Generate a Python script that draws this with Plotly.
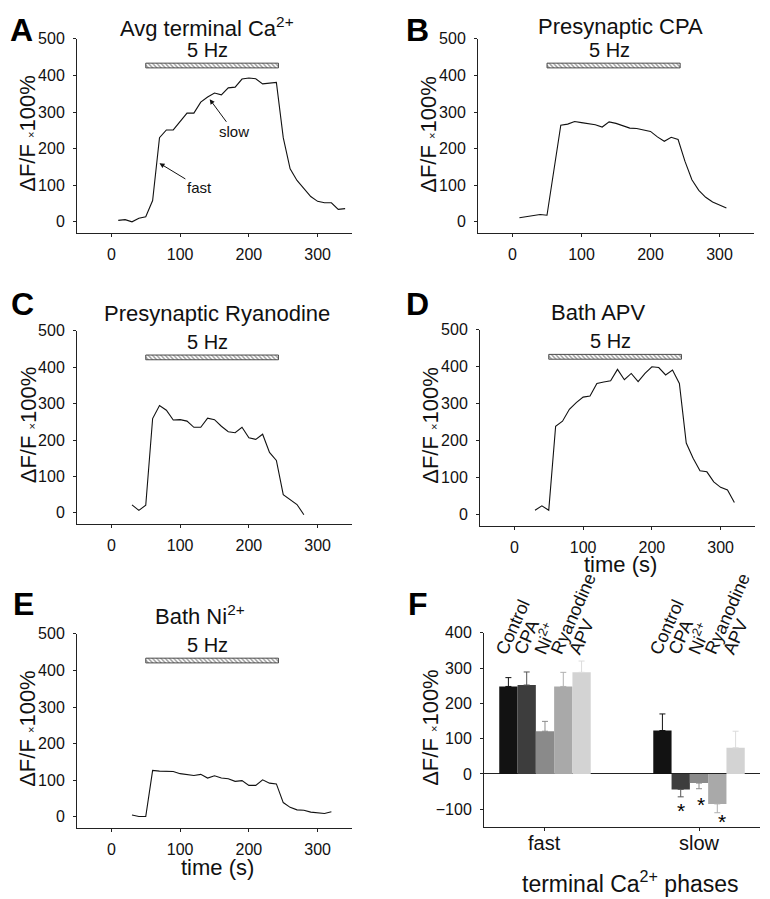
import plotly.graph_objects as go

FONT = "Liberation Sans, Arial, sans-serif"

# ---------------- data ----------------
t_A = [10, 20, 30, 40, 50, 60, 70, 80, 90, 100, 110, 120, 130, 140, 150, 160, 170, 180, 190, 200,
       210, 220, 230, 240, 250, 260, 270, 280, 290, 300, 310, 320, 330, 340]
v_A = [4, 6, 0, 10, 14, 58, 230, 251, 251, 275, 297, 297, 327, 341, 352, 347, 366, 368, 390, 393,
       391, 377, 379, 381, 230, 145, 113, 90, 69, 56, 52, 52, 34, 36]

t_B = [10, 20, 30, 40, 50, 60, 70, 80, 90, 100, 110, 120, 130, 140, 150, 160, 170, 180, 190, 200,
       210, 220, 230, 240, 250, 260, 270, 280, 290, 300, 310]
v_B = [11, 14, 15, 20, 18, 140, 264, 267, 274, 271, 268, 265, 259, 273, 269, 262, 256, 255, 250, 247,
       232, 220, 231, 225, 165, 115, 86, 67, 54, 46, 38]

t_C = [30, 40, 50, 60, 70, 80, 90, 100, 110, 120, 130, 140, 150, 160, 170, 180, 190, 200, 210, 220,
       230, 240, 250, 260, 270, 280]
v_C = [22, 7, 21, 259, 295, 282, 255, 256, 252, 235, 235, 260, 256, 238, 223, 220, 235, 206, 202, 216,
       166, 144, 50, 36, 23, -5]

t_D = [30, 40, 50, 60, 70, 80, 90, 100, 110, 120, 130, 140, 150, 160, 170, 180, 190, 200, 210, 220,
       230, 240, 250, 260, 270, 280, 290, 300, 310, 320]
v_D = [12, 24, 12, 239, 253, 285, 303, 318, 321, 355, 359, 362, 393, 365, 382, 360, 382, 400, 398, 378,
       391, 355, 194, 153, 119, 116, 89, 74, 67, 33]

t_E = [30, 40, 50, 60, 70, 80, 90, 100, 110, 120, 130, 140, 150, 160, 170, 180, 190, 200, 210, 220,
       230, 240, 250, 260, 270, 280, 290, 300, 310, 320]
v_E = [5, 1, 1, 127, 125, 125, 124, 118, 115, 113, 116, 106, 112, 106, 104, 97, 99, 86, 86, 101,
       92, 90, 39, 26, 19, 18, 13, 11, 9, 14]

stim_start = 50
stim_end = 243
stim_level = 427

time_ticks = [0, 100, 200, 300]

phases = ["fast", "slow"]
conditions = ["Control", "CPA", "Ni<sup>2+</sup>", "Ryanodine", "APV"]
cond_colors = ["#121212", "#3d3d3d", "#8a8a8a", "#a9a9a9", "#d3d3d3"]
err_colors = ["#111111", "#555555", "#8c8c8c", "#b0b0b0", "#dcdcdc"]
means = {
    "Control": [248, 123],
    "CPA": [252, -44],
    "Ni<sup>2+</sup>": [121, -26],
    "Ryanodine": [248, -85],
    "APV": [288, 74],
}
errs = {
    "Control": [25, 47],
    "CPA": [37, 21],
    "Ni<sup>2+</sup>": [28, 16],
    "Ryanodine": [40, 25],
    "APV": [32, 47],
}
star_conditions = ["CPA", "Ni<sup>2+</sup>", "Ryanodine"]
star_levels = [-94, -79, -126]

# ---------------- layout helpers (target-pixel -> paper fraction) ----------------
OFFX, OFFY, SY = 8, 15.2, 0.991
W, H = 754, 892


def px(x):
    return (x - OFFX) / W


def py(y):
    return 1 - ((y - OFFY) / SY) / H


def xd(a, b):
    return [px(a), px(b)]


def yd(top, bottom):
    return [py(bottom), py(top)]


panels = [
    ("A", (77, 352), (38, 232), "Avg terminal Ca<sup>2+</sup>", (207, 26), (21, 29), t_A, v_A, False, 0),
    ("B", (478, 754), (38, 232), "Presynaptic CPA", (620, 26), (417, 29), t_B, v_B, False, 0),
    ("C", (77, 352), (330, 523), "Presynaptic Ryanodine", (217, 313), (22, 303), t_C, v_C, False, 0),
    ("D", (480, 755), (329, 525), "Bath APV", (598, 312), (418, 303), t_D, v_D, True, 39),
    ("E", (77, 352), (633, 827), "Bath Ni<sup>2+</sup>", (200, 614), (23, 603), t_E, v_E, True, 40),
]

fig = go.Figure()
annotations = []

axis_common = dict(
    showline=True, linecolor="#222", linewidth=1, showgrid=False, zeroline=False,
    ticks="outside", ticklen=3, tickcolor="#222", tickwidth=1,
    tickfont=dict(family=FONT, size=16, color="#111"),
)

ytitle = "ΔF/F <span style='font-size:11px'>×</span>100%"


def ann(**kw):
    base = dict(showarrow=False, xanchor="center", yanchor="middle")
    base.update(kw)
    annotations.append(base)


for i, (name, xdom, ydom, title, tpos, lpos, tt, vv, show_time, tgap) in enumerate(panels):
    n = i + 1
    xa = "x" if n == 1 else f"x{n}"
    ya = "y" if n == 1 else f"y{n}"
    fig.add_trace(go.Scatter(x=tt, y=vv, mode="lines", line=dict(color="#111", width=1.1),
                             xaxis=xa, yaxis=ya, showlegend=False, hoverinfo="skip"))
    fig.add_trace(go.Bar(x=[stim_end - stim_start], y=[stim_level], base=[stim_start], orientation="h",
                         width=[13], xaxis=xa, yaxis=ya, showlegend=False, hoverinfo="skip",
                         marker=dict(color="white", line=dict(color="#222", width=0.8),
                                     pattern=dict(shape="\\", size=3, solidity=0.45, fgcolor="#333"))))
    lay_x = "xaxis" if n == 1 else f"xaxis{n}"
    lay_y = "yaxis" if n == 1 else f"yaxis{n}"
    fig.layout[lay_x] = dict(domain=xd(*xdom), anchor=ya, range=[-50, 350], tickvals=time_ticks,
                             ticklabelstandoff=4, **axis_common)
    fig.layout[lay_y] = dict(domain=yd(*ydom), anchor=xa, range=[-30, 500],
                             tickvals=[0, 100, 200, 300, 400, 500], ticklabelstandoff=5, **axis_common)
    ann(text=title, x=px(tpos[0]), y=py(tpos[1]), xref="paper", yref="paper",
        font=dict(family=FONT, size=22, color="#111"))
    ann(text="<b>%s</b>" % name, x=px(lpos[0]), y=py(lpos[1]), xref="paper", yref="paper",
        font=dict(family=FONT, size=32, color="#000"))
    ymid = (ydom[0] + ydom[1]) / 2 - 2
    ann(text=ytitle, x=px(xdom[0] - 49), y=py(ymid), xref="paper", yref="paper", textangle=-90,
        font=dict(family=FONT, size=22, color="#111"))
    ann(text="5 Hz", x=(stim_start + stim_end) / 2 - 6, y=469, xref=xa, yref=ya,
        font=dict(family=FONT, size=20, color="#111"))
    if show_time:
        ann(text="time (s)", x=px((xdom[0] + xdom[1]) / 2 + 3), y=py(ydom[1] + tgap),
            xref="paper", yref="paper", font=dict(family=FONT, size=22, color="#111"))

# arrows in panel A
annotations.append(dict(text="slow", x=143, y=335, ax=178, ay=246, xref="x", yref="y", axref="x", ayref="y",
                        showarrow=True, arrowhead=2, arrowsize=1, arrowwidth=1, arrowcolor="#111",
                        font=dict(family=FONT, size=15, color="#111")))
annotations.append(dict(text="fast", x=70, y=160, ax=128, ay=94, xref="x", yref="y", axref="x", ayref="y",
                        showarrow=True, arrowhead=2, arrowsize=1, arrowwidth=1, arrowcolor="#111",
                        font=dict(family=FONT, size=15, color="#111")))

# ---------------- panel F ----------------
for k, c in enumerate(conditions):
    vals = means[c]
    e = errs[c]
    plus = [e[j] if vals[j] >= 0 else 0 for j in range(2)]
    minus = [e[j] if vals[j] < 0 else 0 for j in range(2)]
    fig.add_trace(go.Bar(x=phases, y=vals, name=c, xaxis="x6", yaxis="y6", showlegend=False,
                         marker=dict(color=cond_colors[k], line=dict(width=0)),
                         error_y=dict(type="data", symmetric=False, array=plus, arrayminus=minus,
                                      color=err_colors[k], thickness=1, width=3),
                         hoverinfo="skip"))

fig.layout["xaxis6"] = dict(domain=xd(484, 760), anchor="y6", range=[-0.396, 1.396], type="category",
                            showticklabels=False, **axis_common)
fig.layout["yaxis6"] = dict(domain=yd(632, 826), anchor="x6", range=[-150, 400],
                            tickvals=[-100, 0, 100, 200, 300, 400], ticklabelstandoff=5,
                            **{**axis_common, "zeroline": True, "zerolinecolor": "#222", "zerolinewidth": 1})

fig.update_layout(barmode="group", bargap=0.406, bargroupgap=0)

# phase labels under the F axis
for j, ph in enumerate(phases):
    ann(text=ph, x=j, y=py(842), xref="x6", yref="paper", font=dict(family=FONT, size=20, color="#111"))

slot = 0.594 / 5
for j, ph in enumerate(phases):
    for k, c in enumerate(conditions):
        xc = j - 0.594 / 2 + slot * (k + 0.5)
        annotations.append(dict(text=c, x=xc, y=322, xref="x6", yref="y6", showarrow=False,
                                textangle=-66, xanchor="left", yanchor="bottom", xshift=-19,
                                font=dict(family=FONT, size=18, color="#111")))

star_dx = [0, 2, 5]
for c, lvl, dx in zip(star_conditions, star_levels, star_dx):
    k = conditions.index(c)
    xc = 1 - 0.594 / 2 + slot * (k + 0.5)
    ann(text="*", x=xc, y=lvl, xref="x6", yref="y6", yshift=-3, xshift=dx,
        font=dict(family=FONT, size=21, color="#000"))

ann(text="<b>F</b>", x=px(418), y=py(603), xref="paper", yref="paper",
    font=dict(family=FONT, size=32, color="#000"))
ann(text=ytitle, x=px(484 - 53), y=py(727), xref="paper", yref="paper", textangle=-90,
    font=dict(family=FONT, size=22, color="#111"))
ann(text="terminal Ca<sup>2+</sup> phases", x=px(630), y=py(881), xref="paper", yref="paper",
    font=dict(family=FONT, size=23, color="#111"))

fig.update_layout(
    width=W, height=H, margin=dict(l=0, r=0, t=0, b=0),
    paper_bgcolor="white", plot_bgcolor="white",
    annotations=annotations, showlegend=False,
    font=dict(family=FONT, color="#111"),
)

fig.write_html("out.html")
